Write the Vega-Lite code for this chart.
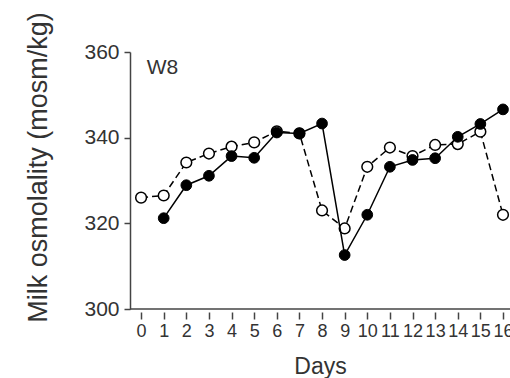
{
  "$schema": "https://vega.github.io/schema/vega-lite/v6.json",
  "width": 380,
  "height": 257,
  "autosize": "none",
  "padding": {"left": 130, "top": 52, "right": 0, "bottom": 69},
  "background": "white",
  "config": {
    "view": {"stroke": null},
    "font": "Liberation Sans",
    "axis": {
      "domainColor": "#444",
      "tickColor": "#444",
      "labelColor": "#333",
      "titleColor": "#333",
      "domainWidth": 1.5,
      "tickWidth": 1.5,
      "grid": false,
      "labelFont": "Liberation Sans",
      "titleFont": "Liberation Sans",
      "titleFontWeight": "normal"
    }
  },
  "data": {
    "values": [
      {"day": 0, "value": 326.0, "series": "open"},
      {"day": 1, "value": 326.5, "series": "open"},
      {"day": 2, "value": 334.2, "series": "open"},
      {"day": 3, "value": 336.3, "series": "open"},
      {"day": 4, "value": 337.9, "series": "open"},
      {"day": 5, "value": 338.9, "series": "open"},
      {"day": 6, "value": 341.5, "series": "open"},
      {"day": 7, "value": 341.0, "series": "open"},
      {"day": 8, "value": 323.0, "series": "open"},
      {"day": 9, "value": 318.8, "series": "open"},
      {"day": 10, "value": 333.2, "series": "open"},
      {"day": 11, "value": 337.7, "series": "open"},
      {"day": 12, "value": 335.7, "series": "open"},
      {"day": 13, "value": 338.3, "series": "open"},
      {"day": 14, "value": 338.5, "series": "open"},
      {"day": 15, "value": 341.4, "series": "open"},
      {"day": 16, "value": 322.0, "series": "open"},
      {"day": 1, "value": 321.2, "series": "filled"},
      {"day": 2, "value": 328.9, "series": "filled"},
      {"day": 3, "value": 331.1, "series": "filled"},
      {"day": 4, "value": 335.7, "series": "filled"},
      {"day": 5, "value": 335.3, "series": "filled"},
      {"day": 6, "value": 341.2, "series": "filled"},
      {"day": 7, "value": 341.0, "series": "filled"},
      {"day": 8, "value": 343.3, "series": "filled"},
      {"day": 9, "value": 312.6, "series": "filled"},
      {"day": 10, "value": 322.0, "series": "filled"},
      {"day": 11, "value": 333.2, "series": "filled"},
      {"day": 12, "value": 334.8, "series": "filled"},
      {"day": 13, "value": 335.2, "series": "filled"},
      {"day": 14, "value": 340.2, "series": "filled"},
      {"day": 15, "value": 343.2, "series": "filled"},
      {"day": 16, "value": 346.6, "series": "filled"}
    ]
  },
  "encoding": {
    "x": {
      "field": "day",
      "type": "quantitative",
      "scale": {"domain": [-0.49, 16.31], "nice": false, "zero": false},
      "axis": {
        "values": [0,1,2,3,4,5,6,7,8,9,10,11,12,13,14,15,16],
        "title": "Days",
        "titleFontSize": 23,
        "titlePadding": 15,
        "labelFontSize": 18,
        "labelOverlap": false,
        "labelPadding": 3,
        "labelBound": false,
        "labelFlush": false,
        "tickSize": 7,
        "offset": 3,
        "domain": false
      }
    },
    "y": {
      "field": "value",
      "type": "quantitative",
      "scale": {"domain": [300, 360], "nice": false, "zero": false},
      "axis": {
        "values": [300, 320, 340, 360],
        "title": "Milk osmolality (mosm/kg)",
        "titleFontSize": 27,
        "titlePadding": 31,
        "titleY": 115,
        "labelFontSize": 21,
        "labelPadding": 5,
        "tickSize": 6
      }
    }
  },
  "layer": [
    {
      "transform": [{"filter": "datum.day === 0"}],
      "mark": {"type": "rule", "color": "#444", "strokeWidth": 1.5},
      "encoding": {"y": {"datum": 300}, "x": null}
    },
    {
      "transform": [{"filter": "datum.series === 'open'"}],
      "mark": {"type": "line", "color": "black", "strokeWidth": 1.5, "strokeDash": [7, 4]}
    },
    {
      "transform": [{"filter": "datum.series === 'open'"}],
      "mark": {"type": "point", "shape": "circle", "filled": true, "fill": "white", "stroke": "black", "strokeWidth": 1.5, "size": 115, "opacity": 1}
    },
    {
      "transform": [{"filter": "datum.series === 'filled'"}],
      "mark": {"type": "line", "color": "black", "strokeWidth": 1.5}
    },
    {
      "transform": [{"filter": "datum.series === 'filled'"}],
      "mark": {"type": "point", "shape": "circle", "filled": true, "fill": "black", "stroke": "black", "strokeWidth": 1, "size": 115, "opacity": 1}
    },
    {
      "transform": [{"filter": "datum.day === 0"}],
      "mark": {"type": "text", "text": "W8", "align": "left", "baseline": "middle", "fontSize": 21, "color": "#333", "font": "Liberation Sans"},
      "encoding": {
        "x": {"datum": 0.25},
        "y": {"datum": 356.3}
      }
    }
  ]
}
